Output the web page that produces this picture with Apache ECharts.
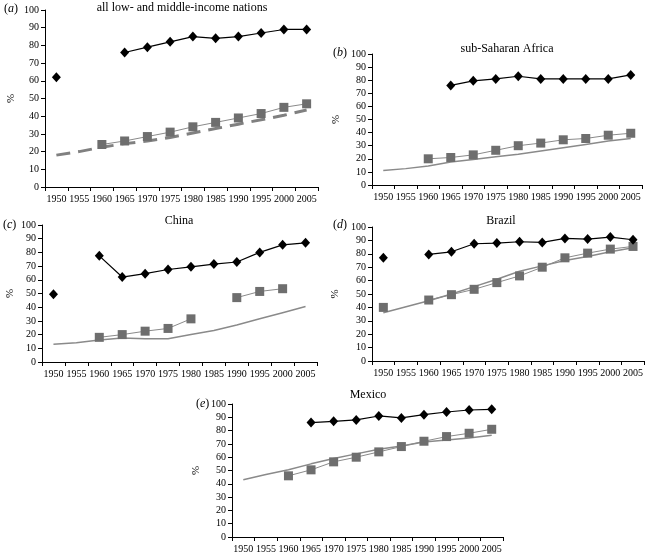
<!DOCTYPE html>
<html><head><meta charset="utf-8">
<script src="https://cdn.jsdelivr.net/npm/echarts@6/dist/echarts.min.js"></script>
<style>html,body{margin:0;padding:0;background:#fff}#c{width:646px;height:555px}</style>
</head><body><div id="c"></div>
<script>
const years = ['1950','1955','1960','1965','1970','1975','1980','1985','1990','1995','2000','2005'];
const yTicks = [0,10,20,30,40,50,60,70,80,90,100];

// (a) all low- and middle-income nations
const aDiamond = [62,null,null,76,79,82,85,84,85,87,89,89];
const aSquare  = [null,null,24,26,28.5,31,34,36.5,39,41.5,45,47];
const aLine    = [18,20,22.5,24.5,26,28,30.5,33,35.5,38,40.5,43.5];
// (b) sub-Saharan Africa
const bDiamond = [null,null,null,76,79.5,81,83,81,81,81,81,84];
const bSquare  = [null,null,20,21,23,26.5,30,32,34.5,35.5,38,39.5];
const bLine    = [11,12.5,14.5,17.5,19.5,21.5,23.5,26,28.5,31,33.5,35.5];
// (c) China
const cDiamond = [49.5,null,77.5,62,64.5,67.5,69.5,71.5,73,80,85.5,87];
const cSquare  = [null,null,18,20,22.5,24.5,31.5,null,47,51.5,53.5,null];
const cLine    = [13,14,16,17.5,17,17,20,23,27,31.5,36,40.5];
// (d) Brazil
const dDiamond = [77,null,79.5,81.5,87.5,88,89,88.5,91.5,91,92.5,90.5];
const dSquare  = [40,null,45.5,49.5,53.5,58.5,63.5,70,77,80.5,83.5,85.5];
const dLine    = [36,40.5,45,50,55.5,61,67,71,75,78,81.5,84.5];
// (e) Mexico
const eDiamond = [null,null,null,86,87,88,91,89.5,92,94,95.5,96];
const eSquare  = [null,null,46,50.5,56.5,60,64,68,72,75.5,78,81];
const eLine    = [43,47,50.5,55,59,62.5,66,68.5,71.5,73,74.5,76.5];

const panels = [
  {id:'a', title:'all low- and middle-income nations', d:aDiamond, s:aSquare, l:aLine, dashed:true,
   grid:{left:45, top:10, width:273, height:177}, tx:182, ty:2, lx:4, ly:3, px:13},
  {id:'b', title:'sub-Saharan Africa', d:bDiamond, s:bSquare, l:bLine,
   grid:{left:372, top:54, width:270, height:131}, tx:507, ty:43, lx:333, ly:47, px:338},
  {id:'c', title:'China', d:cDiamond, s:cSquare, l:cLine,
   grid:{left:42, top:225, width:275, height:137}, tx:179, ty:215, lx:3, ly:219, px:12},
  {id:'d', title:'Brazil', d:dDiamond, s:dSquare, l:dLine,
   grid:{left:372, top:227, width:273, height:134}, tx:501, ty:215, lx:333, ly:219, px:337},
  {id:'e', title:'Mexico', d:eDiamond, s:eSquare, l:eLine,
   grid:{left:232, top:404, width:271, height:133}, tx:368, ty:389, lx:196, ly:398, px:198}
];

const FONT = 'Liberation Serif';
const option = {
  animation:false,
  backgroundColor:'#fff',
  grid:[], xAxis:[], yAxis:[], series:[], graphic:[]
};

panels.forEach((p,i)=>{
  option.grid.push(Object.assign({containLabel:false}, p.grid));
  option.xAxis.push({
    type:'category', gridIndex:i, data:years, boundaryGap:true,
    axisLine:{lineStyle:{color:'#000',width:1}},
    axisTick:{show:true, length:4, lineStyle:{color:'#000'}},
    axisLabel:{interval:0, color:'#000', fontFamily:FONT, fontSize:10, margin:7},
    splitLine:{show:false}
  });
  option.yAxis.push({
    type:'value', gridIndex:i, min:0, max:100, interval:10,
    name:'%', nameLocation:'middle', nameRotate:90, nameGap:p.grid.left-p.px-4,
    nameTextStyle:{color:'#000', fontFamily:FONT, fontSize:11},
    axisLine:{show:true, lineStyle:{color:'#000',width:1}},
    axisTick:{show:true, length:4, lineStyle:{color:'#000'}},
    axisLabel:{color:'#000', fontFamily:FONT, fontSize:10, margin:6},
    splitLine:{show:false}
  });
  option.series.push({
    type:'line', xAxisIndex:i, yAxisIndex:i, data:p.l, showSymbol:false, symbol:'none',
    connectNulls:false, z:1,
    lineStyle: p.dashed ? {color:'#808080', width:3, type:[14,8]} : {color:'#8a8a8a', width:1.5}
  });
  option.series.push({
    type:'line', xAxisIndex:i, yAxisIndex:i, data:p.s, symbol:'rect', symbolSize:9,
    connectNulls:false, z:2,
    itemStyle:{color:'#6e6e6e'},
    lineStyle:{color:'#8a8a8a', width:1}
  });
  option.series.push({
    type:'line', xAxisIndex:i, yAxisIndex:i, data:p.d, symbol:'diamond', symbolSize:[9,10],
    connectNulls:false, z:3,
    itemStyle:{color:'#000'},
    lineStyle:{color:'#000', width:1.2}
  });
  option.graphic.push({
    type:'text', left:p.lx, top:p.ly,
    style:{text:'({i|'+p.id+'})', fontFamily:FONT, fontSize:12, fill:'#000',
      rich:{i:{fontStyle:'italic', fontFamily:FONT, fontSize:12, fill:'#000'}}}
  });
  option.graphic.push({
    type:'text', x:p.tx, y:p.ty,
    style:{text:p.title, fontFamily:FONT, fontSize:12, fill:'#000', align:'center', verticalAlign:'top'}
  });
});

const chart = echarts.init(document.getElementById('c'), null, {renderer:'canvas'});
chart.setOption(option);
</script></body></html>
